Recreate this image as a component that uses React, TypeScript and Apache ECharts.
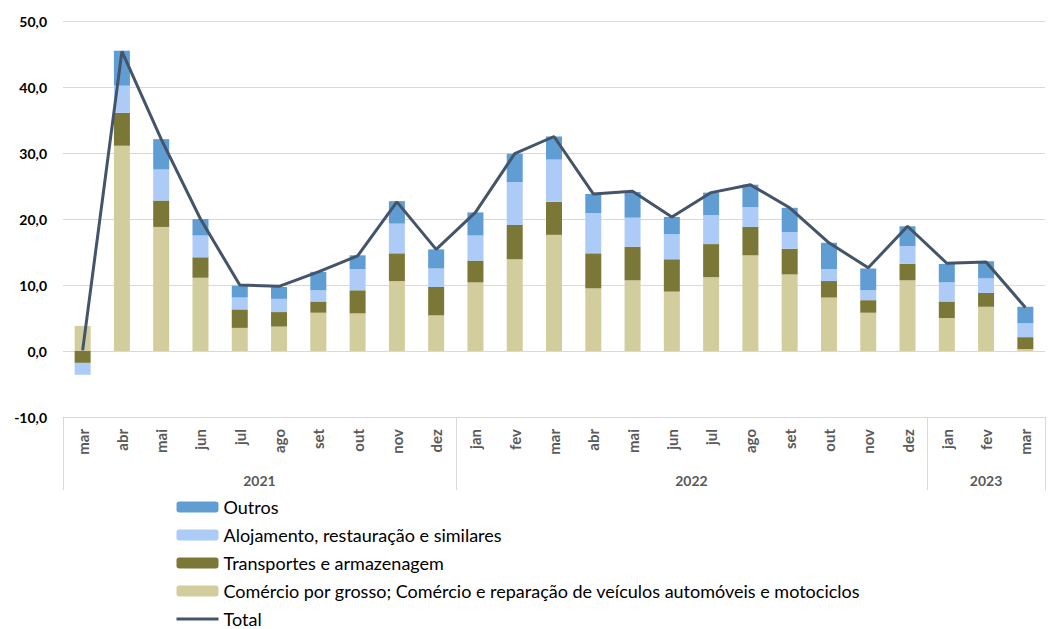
import React, { useEffect, useRef } from 'react';
import * as echarts from 'echarts';

const months = ['mar', 'abr', 'mai', 'jun', 'jul', 'ago', 'set', 'out', 'nov', 'dez', 'jan', 'fev', 'mar', 'abr', 'mai', 'jun', 'jul', 'ago', 'set', 'out', 'nov', 'dez', 'jan', 'fev', 'mar'];
const years = ['2021', '2022', '2023'];
const monthsPerYear = [10, 12, 3];

const comercio = [3.8, 31.1, 18.8, 11.1, 3.5, 3.7, 5.8, 5.7, 10.6, 5.4, 10.4, 13.9, 17.6, 9.5, 10.7, 9.0, 11.2, 14.5, 11.6, 8.1, 5.8, 10.7, 5.0, 6.7, 0.3];
const transportes = [-1.8, 5.0, 4.0, 3.1, 2.8, 2.2, 1.7, 3.5, 4.2, 4.3, 3.3, 5.2, 5.0, 5.3, 5.1, 4.9, 5.0, 4.3, 3.9, 2.5, 1.9, 2.5, 2.5, 2.1, 1.8];
const alojamento = [-1.8, 4.1, 4.7, 3.3, 1.8, 2.0, 1.7, 3.2, 4.5, 2.8, 3.8, 6.5, 6.4, 6.1, 4.4, 3.8, 4.4, 3.0, 2.5, 1.8, 1.5, 2.7, 2.9, 2.2, 2.1];
const outros = [0.0, 5.3, 4.6, 2.5, 1.8, 1.8, 2.8, 2.1, 3.4, 2.9, 3.5, 4.3, 3.5, 2.9, 3.9, 2.6, 3.4, 3.4, 3.7, 4.0, 3.3, 3.0, 2.8, 2.6, 2.5];
const total = [0.1, 45.4, 32.1, 20.0, 10.0, 9.8, 12.0, 14.4, 22.6, 15.4, 21.0, 29.9, 32.5, 23.8, 24.2, 20.3, 24.0, 25.2, 21.7, 16.4, 12.6, 18.9, 13.3, 13.5, 6.6];

const names = {
  outros: 'Outros',
  aloj: 'Alojamento, restauração e similares',
  transp: 'Transportes e armazenagem',
  com: 'Comércio por grosso; Comércio e reparação de veículos automóveis e motociclos',
  total: 'Total',
};

// Build the year axis on half-month slots so labels sit centred on each year span
const halfSlots = months.length * 2 + 1;
const yearData: string[] = new Array(halfSlots).fill('');
const yearBoundaries: number[] = [];
{
  let start = 0;
  years.forEach((y, i) => {
    yearBoundaries.push(start);
    yearData[start + monthsPerYear[i]] = y;
    start += monthsPerYear[i] * 2;
  });
  yearBoundaries.push(start);
}

const FONT = 'Lato';

export default function App() {
  const ref = useRef<HTMLDivElement>(null);
  useEffect(() => {
    if (!ref.current) return;
    const chart = echarts.init(ref.current, undefined, { renderer: 'svg' });
    const barBase = { type: 'bar', stack: 'a', barWidth: 16 };
    chart.setOption({
      animation: false,
      textStyle: { fontFamily: FONT },
      grid: { left: 63, right: -8, top: 21, bottom: 212, containLabel: false },
      legend: {
        orient: 'vertical',
        left: 175,
        top: 498,
        height: 160,
        padding: 0,
        itemWidth: 42,
        itemHeight: 11,
        itemGap: 10,
        selectedMode: false,
        textStyle: { fontFamily: FONT, fontSize: 18, lineHeight: 18, color: '#000' },
        data: [
          names.outros,
          names.aloj,
          names.transp,
          names.com,
          {
            name: names.total,
            itemStyle: { opacity: 0 },
            lineStyle: { width: 3, color: '#44546A' },
          },
        ],
      },
      xAxis: [
        {
          type: 'category',
          data: months,
          position: 'bottom',
          axisLine: { onZero: false, lineStyle: { color: '#D9D9D9', width: 1 } },
          axisTick: { show: false },
          axisLabel: { interval: 0, rotate: 90, margin: 12, fontSize: 15, fontWeight: 'bold', color: '#595959', fontFamily: FONT },
        },
        {
          type: 'category',
          data: yearData,
          position: 'bottom',
          boundaryGap: false,
          axisLine: { show: false, onZero: false },
          axisTick: {
            show: true,
            length: 73,
            interval: (i: number) => yearBoundaries.includes(i),
            lineStyle: { color: '#D9D9D9', width: 1 },
          },
          axisLabel: { interval: 0, margin: 56, fontSize: 14, fontWeight: 'bold', color: '#595959', fontFamily: FONT },
          splitLine: { show: false },
        },
      ],
      yAxis: {
        type: 'value',
        min: -10,
        max: 50,
        interval: 10,
        axisLine: { show: false },
        axisTick: { show: false },
        splitLine: { lineStyle: { color: '#D9D9D9', width: 1 } },
        axisLabel: {
          margin: 16,
          fontSize: 14,
          fontWeight: 'bold',
          color: '#000',
          fontFamily: FONT,
          formatter: (v: number) => v.toFixed(1).replace('.', ','),
        },
      },
      series: [
        { ...barBase, name: names.com, data: comercio, itemStyle: { color: '#D1CD9C' } },
        { ...barBase, name: names.transp, data: transportes, itemStyle: { color: '#7B7737' } },
        { ...barBase, name: names.aloj, data: alojamento, itemStyle: { color: '#ADCBF7' } },
        { ...barBase, name: names.outros, data: outros, itemStyle: { color: '#5F9DD3' } },
        {
          type: 'line',
          name: names.total,
          data: total,
          symbol: 'none',
          z: 10,
          lineStyle: { color: '#44546A', width: 3 },
          itemStyle: { color: '#44546A' },
        },
      ],
    });
    return () => chart.dispose();
  }, []);
  return <div ref={ref} style={{ position: 'absolute', left: 0, top: 0, width: 1048, height: 629 }} />;
}
